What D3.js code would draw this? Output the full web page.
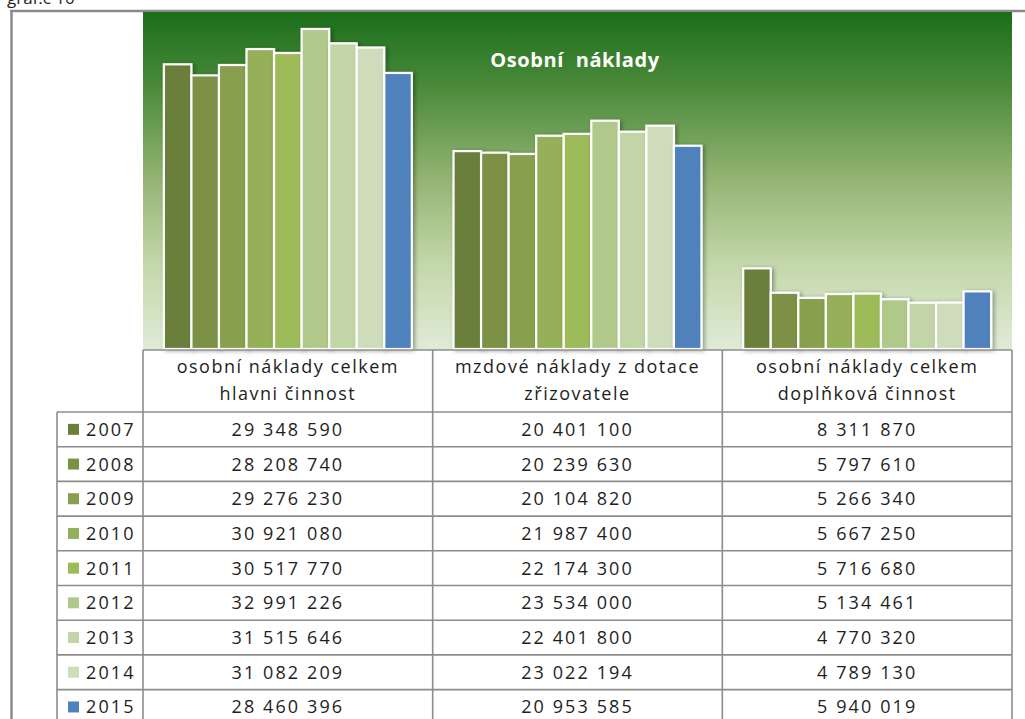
<!DOCTYPE html>
<html>
<head>
<meta charset="utf-8">
<script src="https://cdnjs.cloudflare.com/ajax/libs/d3/7.8.5/d3.min.js"></script>
<style>
  body { margin: 0; background: #fff; }
  svg { display: block; }
  .cell { font-family: "Open Sans", sans-serif; font-size: 18px; letter-spacing: 1.5px; fill: #1e1e1e; }
  .num { letter-spacing: 2.1px; }
  .title { font-family: "Open Sans", sans-serif; font-size: 20px; font-weight: bold; fill: #fff; letter-spacing: 0.6px; }
</style>
</head>
<body>
<svg width="1025" height="719"></svg>
<script>
// data
var years = ["2007", "2008", "2009", "2010", "2011", "2012", "2013", "2014", "2015"];
var categories = ["hlavni", "mzdove", "doplnkova"];
var categoryLabels = [
  ["osobní náklady celkem", "hlavni činnost"],
  ["mzdové náklady z dotace", "zřizovatele"],
  ["osobní náklady celkem", "doplňková činnost"]
];
var hlavni    = [29348590, 28208740, 29276230, 30921080, 30517770, 32991226, 31515646, 31082209, 28460396];
var mzdove    = [20401100, 20239630, 20104820, 21987400, 22174300, 23534000, 22401800, 23022194, 20953585];
var doplnkova = [8311870, 5797610, 5266340, 5667250, 5716680, 5134461, 4770320, 4789130, 5940019];
var yTicks = [0, 35000000];

var palette = ["#6b7f3b", "#7b9145", "#88a04d", "#95b058", "#9dbb59", "#b0c889", "#c2d5a6", "#cfdcbc", "#4f81bd"];

var seriesByCat = { hlavni: hlavni, mzdove: mzdove, doplnkova: doplnkova };

const svg = d3.select('svg');

const plot = { left: 143, right: 1012, top: 12, bottom: 349 };

const x0 = d3.scaleBand()
  .domain(categories)
  .range([plot.left, plot.right])
  .paddingInner(0.144)
  .paddingOuter(0.072);

const x1 = d3.scaleBand()
  .domain(years)
  .range([0, x0.bandwidth()]);

const y = d3.scaleLinear()
  .domain(d3.extent(yTicks))
  .range([plot.bottom, 9.5]);

const color = d3.scaleOrdinal().domain(years).range(palette);

const defs = svg.append('defs');
const grad = defs.append('linearGradient')
  .attr('id', 'bg')
  .attr('x1', 0).attr('y1', 0).attr('x2', 0).attr('y2', 1);
[[0, "#1b6e1a"], [0.22, "#4a8a3b"], [0.5, "#95b574"], [0.75, "#c4d8ab"], [1, "#e0ebd6"]]
  .forEach(s => grad.append('stop').attr('offset', s[0]).attr('stop-color', s[1]));

const shadow = defs.append('filter').attr('id', 'shadow')
  .attr('x', '-20%').attr('y', '-10%').attr('width', '150%').attr('height', '130%');
shadow.append('feDropShadow')
  .attr('dx', 2).attr('dy', 1).attr('stdDeviation', 2)
  .attr('flood-color', '#000').attr('flood-opacity', 0.35);

// caption above the frame, cut by the page edge like in the source
svg.append('text')
  .attr('x', 7).attr('y', 4)
  .style('font-family', '"Open Sans", sans-serif')
  .style('font-size', '17px')
  .attr('fill', '#222')
  .text('graf.č 10');

// outer frame
svg.append('line').attr('x1', 10).attr('x2', 1025).attr('y1', 11).attr('y2', 11)
  .attr('stroke', '#8a8a8a').attr('stroke-width', 2.5);
svg.append('line').attr('x1', 11.5).attr('x2', 11.5).attr('y1', 10).attr('y2', 719)
  .attr('stroke', '#8a8a8a').attr('stroke-width', 2.5);

// plot area
svg.append('rect')
  .attr('x', plot.left).attr('y', plot.top)
  .attr('width', plot.right - plot.left).attr('height', plot.bottom - plot.top + 1)
  .attr('fill', 'url(#bg)');

// bars
const groups = svg.append('g').selectAll('g')
  .data(categories)
  .join('g')
  .attr('transform', c => `translate(${x0(c)},0)`);

groups.selectAll('rect')
  .data(c => years.map((yr, i) => ({ year: yr, value: seriesByCat[c][i] })))
  .join('rect')
  .attr('x', d => x1(d.year))
  .attr('y', d => y(d.value))
  .attr('width', x1.bandwidth())
  .attr('height', d => plot.bottom - y(d.value))
  .attr('fill', d => color(d.year))
  .attr('stroke', '#fff')
  .attr('stroke-width', 2.2)
  .attr('filter', 'url(#shadow)');

svg.append('text')
  .attr('class', 'title')
  .attr('x', 575)
  .attr('y', 67)
  .attr('text-anchor', 'middle')
  .attr('xml:space', 'preserve')
  .text('Osobní  náklady');

// data table
const headTop = 350, rowTop = 412, rowH = 34.7, tableLeft = 57;
const rows = d3.scaleBand()
  .domain(years)
  .range([rowTop, rowTop + rowH * years.length]);
const tableBottom = rowTop + rowH * years.length;

const colLeft = c => x0(c) - (x0.step() - x0.bandwidth()) / 2;
const colMid = c => x0(c) + x0.bandwidth() / 2;

const fmt = v => d3.format(',')(v).replace(/,/g, ' ');

const table = svg.append('g');
const lineColor = '#8c8c8c';

// header
categories.forEach((c, i) => {
  const t = table.append('text')
    .attr('class', 'cell')
    .attr('text-anchor', 'middle')
    .attr('x', colMid(c));
  t.append('tspan').attr('x', colMid(c)).attr('y', 373).text(categoryLabels[i][0]);
  t.append('tspan').attr('x', colMid(c)).attr('y', 400).text(categoryLabels[i][1]);
});

// rows
years.forEach((yr, i) => {
  const cy = rows(yr) + rows.bandwidth() / 2;
  table.append('rect')
    .attr('x', 68).attr('y', cy - 5.5)
    .attr('width', 11).attr('height', 11)
    .attr('fill', color(yr));
  table.append('text')
    .attr('class', 'cell num')
    .attr('x', 86).attr('y', cy + 6.5)
    .text(yr);
  categories.forEach(c => {
    table.append('text')
      .attr('class', 'cell num')
      .attr('text-anchor', 'middle')
      .attr('x', colMid(c)).attr('y', cy + 6.5)
      .text(fmt(seriesByCat[c][i]));
  });
});

// grid lines
const hLines = [{ y: headTop, x1: plot.left }]
  .concat(years.map(yr => ({ y: rows(yr), x1: tableLeft })))
  .concat([{ y: tableBottom, x1: tableLeft }]);
table.selectAll('.hl')
  .data(hLines)
  .join('line')
  .attr('x1', d => d.x1).attr('x2', plot.right)
  .attr('y1', d => d.y).attr('y2', d => d.y)
  .attr('stroke', lineColor).attr('stroke-width', 1.6);

const vLines = [{ x: tableLeft, y1: rowTop }]
  .concat(categories.map(c => ({ x: colLeft(c), y1: headTop })))
  .concat([{ x: plot.right, y1: headTop }]);
table.selectAll('.vl')
  .data(vLines)
  .join('line')
  .attr('x1', d => d.x).attr('x2', d => d.x)
  .attr('y1', d => d.y1).attr('y2', tableBottom)
  .attr('stroke', lineColor).attr('stroke-width', 1.6);
</script>
</body>
</html>
